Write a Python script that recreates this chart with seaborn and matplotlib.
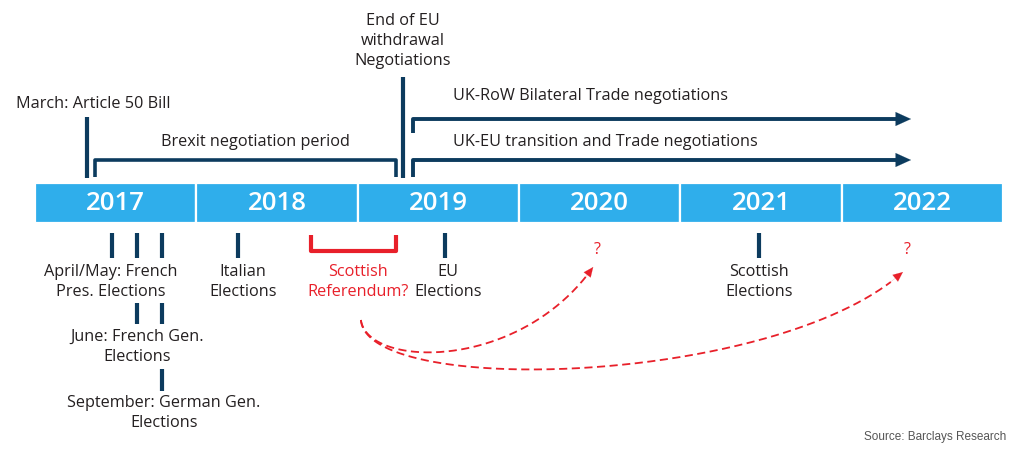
import numpy as np
import matplotlib
matplotlib.use("Agg")
import matplotlib.pyplot as plt
import seaborn as sns

sns.set_theme(style="white")
plt.rcParams['font.family'] = ['Open Sans', 'DejaVu Sans']

# ---------------- data ----------------
year_labels = ["2017", "2018", "2019", "2020", "2021", "2022"]
year_starts = [2017, 2018, 2019, 2020, 2021, 2022]

# above-bar milestones
article50_x = 2017.32
withdrawal_end_x = 2019.28
brexit_period = (2017.37, 2019.24)
brexit_label_x = 2018.365
trade_start, trade_end = 2019.34, 2022.43
trade_labels = ["UK-RoW Bilateral Trade negotiations",
                "UK-EU transition and Trade negotiations"]

# below-bar events
french_ticks = [2017.48, 2017.63, 2017.79]
french_row2_ticks = [2017.63, 2017.79]
french_row3_ticks = [2017.79]
french_labels = ["April/May: French\nPres. Elections",
                 "June: French Gen.\nElections",
                 "September: German Gen.\nElections"]
french_label_x = [2017.47, 2017.63, 2017.80]

other_events = ["Italian\nElections", "EU\nElections", "Scottish\nElections"]
other_events_x = [2018.26, 2019.54, 2021.49]
other_label_x = [2018.29, 2019.56, 2021.49]

scot_ref = (2018.71, 2019.24)
scot_ref_label_x = 2019.00
ref_curve_start = 2019.02
ref_curve_ends = [2020.46, 2022.38]

# ---------------- style ----------------
BLUE = "#2FAEEB"
NAVY = "#0C3B5E"
RED = "#E8202A"
TXT = "#231F20"
FS = 11.7
px = 161.33  # pixels per year

fig = plt.figure(figsize=(10.24, 4.54), dpi=100)
ax = fig.add_axes([0, 0, 1, 1])
ax.set_xlim(2017 - 35 / px, 2017 + (1024 - 35) / px)
ax.set_ylim(454, 0)
ax.axis("off")

# year bar
ax.barh([202.5] * len(year_starts), [1] * len(year_starts), left=year_starts,
        height=40, color=BLUE, edgecolor="white", linewidth=1.6, zorder=2)
for x0, lab in zip(year_starts, year_labels):
    ax.text(x0 + 0.5, 204, lab, ha="center", va="center", color="white",
            fontsize=18.5, fontweight="semibold", zorder=3)

# above-bar lines
ax.plot([article50_x, article50_x], [117, 178], color=NAVY, lw=3, solid_capstyle="butt")
ax.text(2017.36, 104, "March: Article 50 Bill", ha="center", va="center",
        fontsize=FS, color=TXT)

ax.plot([withdrawal_end_x, withdrawal_end_x], [77, 178], color=NAVY, lw=3,
        solid_capstyle="butt")
ax.text(withdrawal_end_x, 41, "End of EU\nwithdrawal\nNegotiations", ha="center",
        va="center", fontsize=FS, color=TXT, linespacing=1.35)

# Brexit negotiation bracket
b0, b1 = brexit_period
ax.plot([b0, b0, b1, b1], [177, 160, 160, 177], color=NAVY, lw=2.6,
        solid_joinstyle="round", solid_capstyle="butt")
ax.text(brexit_label_x, 142, "Brexit negotiation period", ha="center",
        va="center", fontsize=FS, color=TXT)

# trade arrows
for ytop, ybot, lab, ylab in [(119, 133, trade_labels[0], 96),
                              (160, 177, trade_labels[1], 142)]:
    ax.plot([trade_start, trade_start, trade_end - 0.07], [ybot, ytop, ytop],
            color=NAVY, lw=2.8, solid_joinstyle="round", solid_capstyle="butt")
    ax.annotate("", xy=(trade_end, ytop), xytext=(trade_end - 0.1, ytop),
                arrowprops=dict(arrowstyle="-|>,head_length=0.55,head_width=0.25",
                                mutation_scale=20, color=NAVY, lw=0.1,
                                shrinkA=0, shrinkB=0))
    ax.text(2019.59, ylab, lab, ha="left", va="center", fontsize=FS, color=TXT)

# below-bar events
def tick(x, y0, y1):
    ax.plot([x, x], [y0, y1], color=NAVY, lw=3, solid_capstyle="butt")

for x in french_ticks:
    tick(x, 233, 258)
for x in french_row2_ticks:
    tick(x, 303, 324)
for x in french_row3_ticks:
    tick(x, 369, 391)
for lab, lx, yc in zip(french_labels, french_label_x, [282, 347, 413]):
    ax.text(lx, yc, lab, ha="center", va="center", fontsize=FS, color=TXT,
            linespacing=1.3)

for x, lx, lab in zip(other_events_x, other_label_x, other_events):
    tick(x, 233, 258)
    ax.text(lx, 282, lab, ha="center", va="center", fontsize=FS, color=TXT,
            linespacing=1.3)

# Scottish referendum bracket
s0, s1 = scot_ref
ax.plot([s0, s0, s1, s1], [235, 251, 251, 235], color=RED, lw=3,
        solid_joinstyle="round", solid_capstyle="butt")
ax.text(scot_ref_label_x, 282, "Scottish\nReferendum?", ha="center", va="center",
        fontsize=FS, color=RED, linespacing=1.3)

# dashed curves
def bezier(p0, p1, p2, p3, n=200):
    t = np.linspace(0, 1, n)[:, None]
    return ((1 - t) ** 3) * p0 + 3 * ((1 - t) ** 2) * t * p1 + 3 * (1 - t) * t ** 2 * p2 + t ** 3 * p3

ctrl = [((2019.06, 368), (2020.0, 372), 267),
        ((2019.06, 398), (2021.60, 385), 272)]
for xend, (c1, c2, yend) in zip(ref_curve_ends, ctrl):
    pts = bezier(np.array([ref_curve_start, 320]), np.array(c1), np.array(c2),
                 np.array([xend, yend]))
    ax.plot(pts[:-6, 0], pts[:-6, 1], color=RED, lw=1.3, dashes=(4.5, 2.5))
    ax.annotate("", xy=pts[-1], xytext=pts[-8],
                arrowprops=dict(arrowstyle="-|>,head_length=0.5,head_width=0.22",
                                mutation_scale=14, color=RED, lw=0.1,
                                shrinkA=0, shrinkB=0))
    ax.text(xend + 0.025, 250, "?", ha="center", va="center", fontsize=11.5, color=RED)

ax.text(2023.02, 437, "Source: Barclays Research", ha="right", va="center",
        fontsize=8.5, color="#555555", family=["Liberation Sans", "DejaVu Sans"])

fig.savefig("out.png", dpi=100, facecolor="white")
